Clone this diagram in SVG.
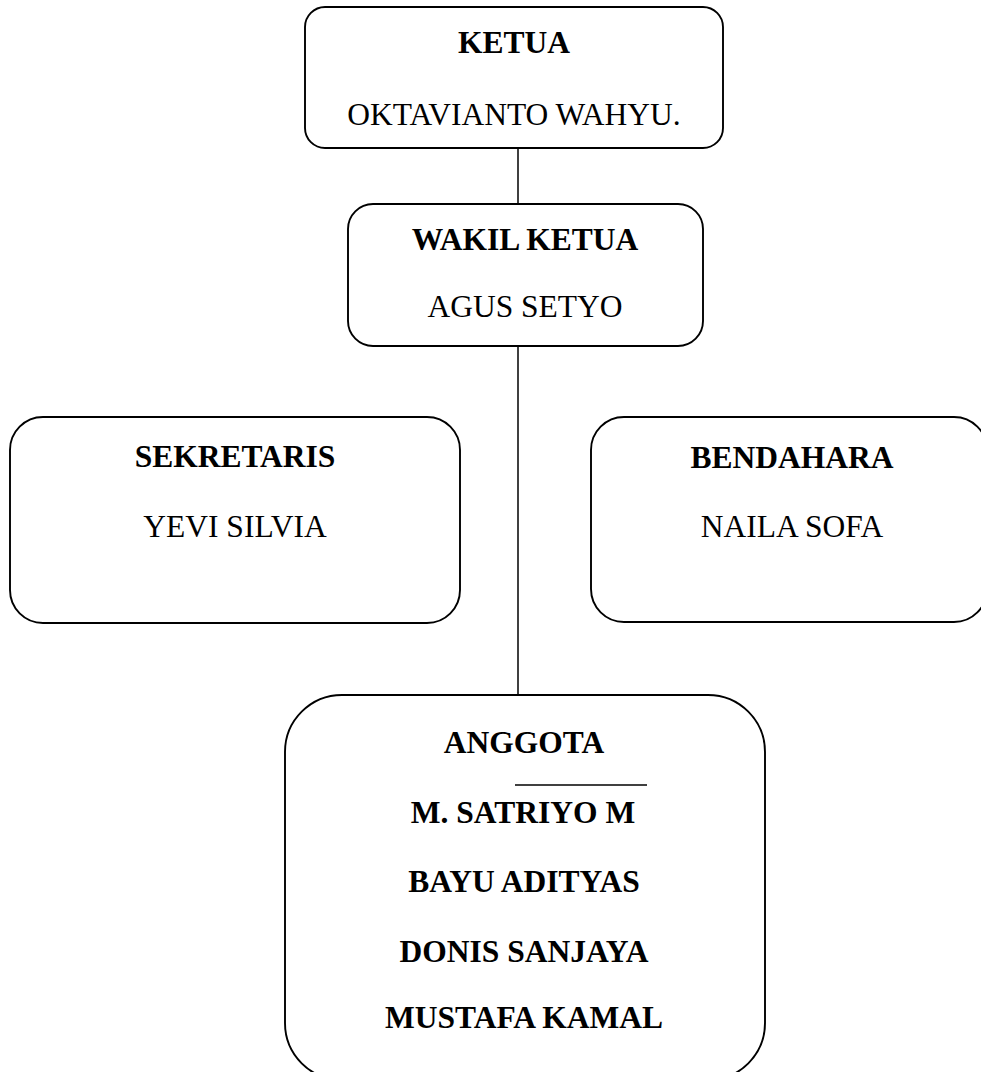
<svg xmlns="http://www.w3.org/2000/svg" width="981" height="1072" viewBox="0 0 981 1072">
<style>
.box{fill:#fff;stroke:#000;stroke-width:1.9}
.conn{stroke:#000;stroke-width:1.5;fill:none}
text{font-family:"Liberation Serif","Times New Roman",serif;font-size:31.5px;fill:#000;text-anchor:middle}
.b{font-weight:bold}
</style>
<rect width="981" height="1072" fill="#fff"/>
<g id="connectors">
<line class="conn" x1="518" y1="148" x2="518" y2="204"/>
<line class="conn" x1="518" y1="346" x2="518" y2="695"/>
</g>
<g id="ketua">
<rect class="box" x="305" y="7" width="418" height="141" rx="20"/>
<text class="b" x="514" y="53">KETUA</text>
<text x="514" y="125">OKTAVIANTO WAHYU.</text>
</g>
<g id="wakil">
<rect class="box" x="348" y="204" width="355" height="142" rx="25"/>
<text class="b" x="525" y="250">WAKIL KETUA</text>
<text x="525" y="317">AGUS SETYO</text>
</g>
<g id="sekretaris">
<rect class="box" x="10" y="417" width="450" height="206" rx="33"/>
<text class="b" x="235" y="467">SEKRETARIS</text>
<text x="235" y="537">YEVI SILVIA</text>
</g>
<g id="bendahara">
<rect class="box" x="591" y="417" width="396" height="205" rx="33"/>
<text class="b" x="792" y="468">BENDAHARA</text>
<text x="792" y="537">NAILA SOFA</text>
</g>
<g id="anggota">
<rect class="box" x="285" y="695" width="480" height="385" rx="57"/>
<text class="b" x="524" y="753">ANGGOTA</text>
<line class="conn" x1="515" y1="785" x2="647" y2="785"/>
<text class="b" x="523" y="823">M. SATRIYO M</text>
<text class="b" x="524" y="892">BAYU ADITYAS</text>
<text class="b" x="524" y="962">DONIS SANJAYA</text>
<text class="b" x="524" y="1028">MUSTAFA KAMAL</text>
</g>
</svg>
